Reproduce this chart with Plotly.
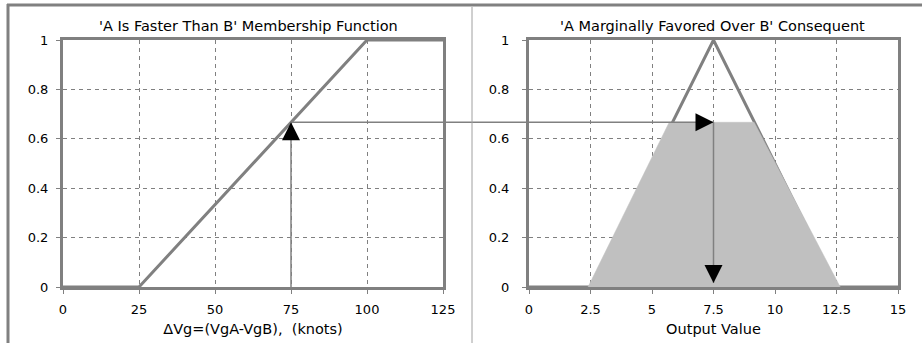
import plotly.graph_objects as go

# ---- data ----
left_x = [0, 25, 100, 125]
left_y = [0, 0, 1, 1]
right_x = [0, 2.5, 7.5, 12.5, 15]
right_y = [0, 0, 1, 0, 0]
firing = 0.667
input_value = 75
output_value = 7.5
output_tip = 0.016
fill_x = [2.4, 5.7, 9.15, 12.65]
fill_y = [0, firing, firing, 0]
left_ticks = [0, 25, 50, 75, 100, 125]
right_ticks = [0, 2.5, 5, 7.5, 10, 12.5, 15]
right_tick_labels = ["0", "2.5", "5", "7.5", "10", "12.5", "15"]
y_ticks = [0, 0.2, 0.4, 0.6, 0.8, 1]
y_tick_labels = ["0", "0.2", "0.4", "0.6", "0.8", "1"]
title_left = "'A Is Faster Than B' Membership Function"
title_right = "'A Marginally Favored Over B' Consequent"
xlabel_left = "\u0394Vg=(VgA-VgB),  (knots)"
xlabel_right = "Output Value"

W, H = 922, 343
GRAY = "#808080"
FONT = "DejaVu Sans"
left_dom = [63 / W, 443 / W]
right_dom = [529 / W, 898 / W]
y_dom = [(H - 287) / H, (H - 40) / H]
left_range = [0, 125]
right_range = [0, 15]

fig = go.Figure()

# left panel
fig.add_trace(go.Scatter(x=left_x, y=left_y, mode="lines",
                         line=dict(color=GRAY, width=3), xaxis="x", yaxis="y",
                         showlegend=False, hoverinfo="skip"))
fig.add_trace(go.Scatter(x=[input_value, input_value], y=[0, firing], mode="lines",
                         line=dict(color=GRAY, width=1.5), xaxis="x", yaxis="y",
                         showlegend=False, hoverinfo="skip"))

# right panel
fig.add_trace(go.Scatter(x=right_x, y=right_y, mode="lines",
                         line=dict(color=GRAY, width=3), xaxis="x2", yaxis="y2",
                         showlegend=False, hoverinfo="skip"))
fig.add_trace(go.Scatter(x=fill_x, y=fill_y, mode="lines", fill="toself",
                         fillcolor="#C0C0C0", line=dict(color="#C0C0C0", width=0.5),
                         xaxis="x2", yaxis="y2", showlegend=False, hoverinfo="skip"))
fig.add_trace(go.Scatter(x=[output_value, output_value], y=[firing, output_tip], mode="lines",
                         line=dict(color=GRAY, width=1.5), xaxis="x2", yaxis="y2",
                         showlegend=False, hoverinfo="skip"))


def to_paper_x(v, dom, rng):
    return dom[0] + (v - rng[0]) / (rng[1] - rng[0]) * (dom[1] - dom[0])


def to_paper_y(v):
    return y_dom[0] + v * (y_dom[1] - y_dom[0])


shapes = [
    # connecting horizontal line
    dict(type="line", xref="paper", yref="paper",
         x0=to_paper_x(input_value, left_dom, left_range),
         x1=to_paper_x(output_value, right_dom, right_range),
         y0=to_paper_y(firing), y1=to_paper_y(firing),
         line=dict(color=GRAY, width=1.5), layer="above"),
    # outer border
    dict(type="line", xref="paper", yref="paper", x0=7 / W, x1=1, y0=1 - 5 / H, y1=1 - 5 / H,
         line=dict(color=GRAY, width=3)),
    dict(type="line", xref="paper", yref="paper", x0=8 / W, x1=8 / W, y0=0, y1=1 - 4 / H,
         line=dict(color=GRAY, width=3)),
    dict(type="line", xref="paper", yref="paper", x0=472 / W, x1=472 / W, y0=0, y1=1 - 7 / H,
         line=dict(color="#A0A0A0", width=1)),
]

arrow_common = dict(text="", showarrow=True, arrowhead=2, arrowsize=2.4, arrowwidth=1.5,
                    arrowcolor="black", axref="pixel", ayref="pixel", standoff=0)
annotations = [
    dict(x=input_value, y=firing, xref="x", yref="y", ax=0, ay=17, **arrow_common),
    dict(x=output_value, y=firing, xref="x2", yref="y2", ax=-17, ay=0, **arrow_common),
    dict(x=output_value, y=output_tip, xref="x2", yref="y2", ax=0, ay=-17, **arrow_common),
    dict(text=title_left, xref="paper", yref="paper", x=249 / W, y=1 - 26 / H,
         showarrow=False, xanchor="center", yanchor="middle",
         font=dict(family=FONT, size=14.5, color="black")),
    dict(text=title_right, xref="paper", yref="paper", x=712 / W, y=1 - 26 / H,
         showarrow=False, xanchor="center", yanchor="middle",
         font=dict(family=FONT, size=14.5, color="black")),
]

common = dict(showline=True, mirror=True, linewidth=3, linecolor=GRAY,
              showgrid=True, gridcolor=GRAY, gridwidth=1, griddash="4px,4px",
              zeroline=False, tickfont=dict(family=FONT, size=13, color="black"),
              fixedrange=True, automargin=False)
x_ticks_style = dict(ticks="outside", ticklen=4, tickcolor=GRAY, tickwidth=1)


def y_ticks_style(label_gap):
    # long invisible major ticks push labels out; short visible minor ticks mark positions
    return dict(ticks="outside", ticklen=label_gap, tickcolor="rgba(0,0,0,0)", tickwidth=1,
                minor=dict(ticks="outside", ticklen=4, tickcolor=GRAY, tickwidth=1,
                           tickmode="array", tickvals=y_ticks, showgrid=False))


fig.update_layout(
    width=W, height=H,
    margin=dict(l=0, r=0, t=0, b=0),
    paper_bgcolor="white", plot_bgcolor="white",
    showlegend=False,
    xaxis=dict(domain=left_dom, range=left_range, tickvals=left_ticks,
               title=dict(text=xlabel_left, font=dict(family=FONT, size=14.5, color="black"),
                          standoff=9),
               anchor="y", ticklabelstandoff=4, **x_ticks_style, **common),
    yaxis=dict(domain=y_dom, range=[0, 1], tickvals=y_ticks, ticktext=y_tick_labels,
               anchor="x", **y_ticks_style(9), **common),
    xaxis2=dict(domain=right_dom, range=right_range, tickvals=right_ticks,
                ticktext=right_tick_labels,
                title=dict(text=xlabel_right, font=dict(family=FONT, size=14.5, color="black"),
                           standoff=9),
                anchor="y2", layer="below traces", ticklabelstandoff=4,
                **x_ticks_style, **common),
    yaxis2=dict(domain=y_dom, range=[0, 1], tickvals=y_ticks, ticktext=y_tick_labels,
                anchor="x2", layer="below traces", **y_ticks_style(14), **common),
    shapes=shapes,
    annotations=annotations,
)

fig.write_html("out.html", config={"displayModeBar": False, "staticPlot": True},
               post_script="document.body.style.margin='0';document.body.style.overflow='hidden';")
